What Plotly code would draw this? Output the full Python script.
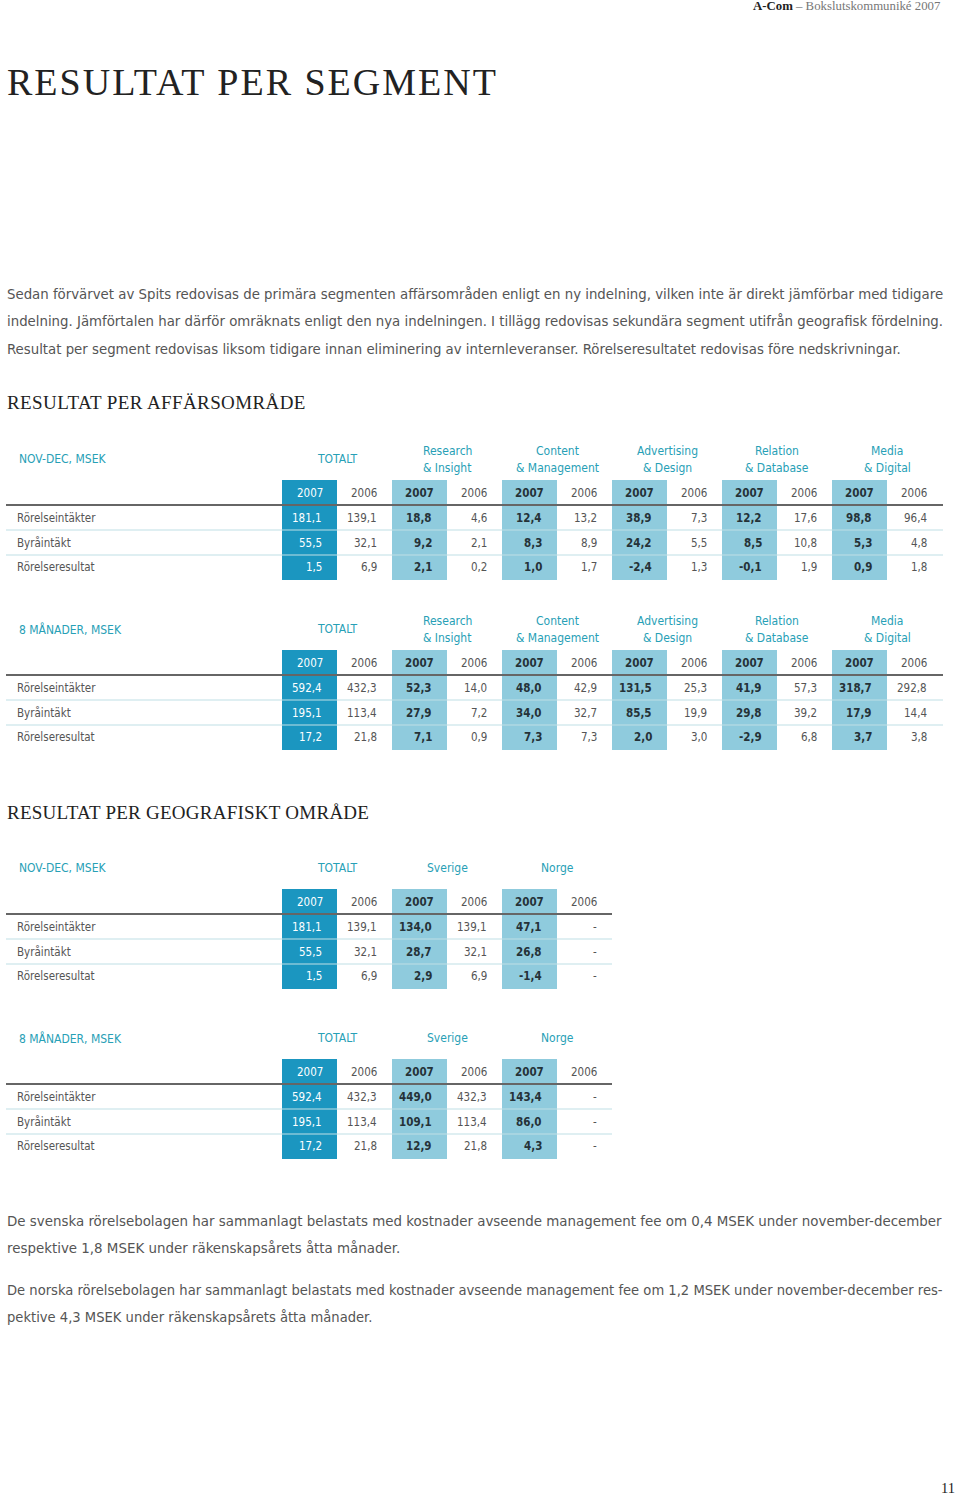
import plotly.graph_objects as go

# ---------------- data ----------------
row_labels = ["Rörelseintäkter", "Byråintäkt", "Rörelseresultat"]

aff_groups = ["TOTALT", "Research<br>& Insight", "Content<br>& Management",
              "Advertising<br>& Design", "Relation<br>& Database", "Media<br>& Digital"]
geo_groups = ["TOTALT", "Sverige", "Norge"]

# rows: Rörelseintäkter, Byråintäkt, Rörelseresultat ; one list per group
aff_novdec_2007 = [[181.1, 55.5, 1.5], [18.8, 9.2, 2.1], [12.4, 8.3, 1.0],
                   [38.9, 24.2, -2.4], [12.2, 8.5, -0.1], [98.8, 5.3, 0.9]]
aff_novdec_2006 = [[139.1, 32.1, 6.9], [4.6, 2.1, 0.2], [13.2, 8.9, 1.7],
                   [7.3, 5.5, 1.3], [17.6, 10.8, 1.9], [96.4, 4.8, 1.8]]
aff_8m_2007 = [[592.4, 195.1, 17.2], [52.3, 27.9, 7.1], [48.0, 34.0, 7.3],
               [131.5, 85.5, 2.0], [41.9, 29.8, -2.9], [318.7, 17.9, 3.7]]
aff_8m_2006 = [[432.3, 113.4, 21.8], [14.0, 7.2, 0.9], [42.9, 32.7, 7.3],
               [25.3, 19.9, 3.0], [57.3, 39.2, 6.8], [292.8, 14.4, 3.8]]
geo_novdec_2007 = [[181.1, 55.5, 1.5], [134.0, 28.7, 2.9], [47.1, 26.8, -1.4]]
geo_novdec_2006 = [[139.1, 32.1, 6.9], [139.1, 32.1, 6.9], [None, None, None]]
geo_8m_2007 = [[592.4, 195.1, 17.2], [449.0, 109.1, 12.9], [143.4, 86.0, 4.3]]
geo_8m_2006 = [[432.3, 113.4, 21.8], [432.3, 113.4, 21.8], [None, None, None]]

years = ["2007", "2006"]

header_left = "A-Com"
header_right = " – Bokslutskommuniké 2007"
page_title = "RESULTAT PER SEGMENT"
intro_lines = [
    "Sedan förvärvet av Spits redovisas de primära segmenten affärsområden enligt en ny indelning, vilken inte är direkt jämförbar med tidigare",
    "indelning. Jämförtalen har därför omräknats enligt den nya indelningen. I tillägg redovisas sekundära segment utifrån geografisk fördelning.",
    "Resultat per segment redovisas liksom tidigare innan eliminering av internleveranser. Rörelseresultatet redovisas före nedskrivningar.",
]
section_aff = "RESULTAT PER AFFÄRSOMRÅDE"
section_geo = "RESULTAT PER GEOGRAFISKT OMRÅDE"
outro_lines = [
    "De svenska rörelsebolagen har sammanlagt belastats med kostnader avseende management fee om 0,4 MSEK under november-december",
    "respektive 1,8 MSEK under räkenskapsårets åtta månader.",
    "De norska rörelsebolagen har sammanlagt belastats med kostnader avseende management fee om 1,2 MSEK under november-december res-",
    "pektive 4,3 MSEK under räkenskapsårets åtta månader.",
]
page_number = "11"

# ---------------- style ----------------
SANS = "Liberation Sans Narrow, DejaVu Sans Condensed, Roboto, sans-serif"
SERIF = "Liberation Serif, DejaVu Serif, serif"
DARK_CELL = "#1b96c0"
LIGHT_CELL = "#8fcbdd"
SEP = "#bfe0e6"
RULE = "#666666"
TEAL = "#27a0b6"
GREY = "#555555"
INK = "#253238"
TS = 11.5  # table text size

fig = go.Figure()
fig.add_trace(go.Scatter(x=[0], y=[0], mode="markers", marker=dict(opacity=0),
                         hoverinfo="skip", showlegend=False))

annots = []
shapes = []


def txt(x, y, s, size, color, family=SANS, anchor="left", bold=False, spacing=None):
    if bold:
        s = f"<b>{s}</b>"
    if spacing is not None:
        s = f"<span style='letter-spacing:{spacing}px'>{s}</span>"
    annots.append(dict(x=x, y=y, xref="x", yref="y", text=s, showarrow=False,
                       xanchor=anchor, yanchor="middle",
                       font=dict(family=family, size=size, color=color)))


def fmt(v):
    if v is None:
        return "-"
    return f"{v:.1f}".replace(".", ",")


def draw_table(y0, label, groups, v2007, v2006, right_edge):
    txt(17, y0, label, 12, TEAL)
    for i, g in enumerate(groups):
        left = 282 + 110 * i
        shapes.append(dict(type="rect", xref="x", yref="y", x0=left, x1=left + 55,
                           y0=y0 + 21, y1=y0 + 121, line=dict(width=0),
                           fillcolor=DARK_CELL if i == 0 else LIGHT_CELL, layer="below"))
        parts = g.split("<br>")
        cx = left + 55
        if len(parts) == 1:
            txt(cx, y0, parts[0], 12, TEAL, anchor="center")
        else:
            txt(cx, y0 - 8.5, parts[0], 12, TEAL, anchor="center")
            txt(cx, y0 + 8.5, parts[1], 12, TEAL, anchor="center")
        txt(left + 27.5, y0 + 34, years[0], TS, "white" if i == 0 else INK,
            anchor="center", bold=(i != 0))
        txt(left + 97, y0 + 34, years[1], TS, GREY, anchor="right")
        for r in range(3):
            yy = y0 + 59 + 24.7 * r
            txt(left + 42, yy, fmt(v2007[i][r]), TS, "white" if i == 0 else INK,
                anchor="right", bold=(i != 0))
            txt(left + 97, yy, fmt(v2006[i][r]), TS, GREY, anchor="right")
    for r, lab in enumerate(row_labels):
        txt(15, y0 + 59 + 24.7 * r, lab, TS, GREY)
    shapes.append(dict(type="line", xref="x", yref="y", x0=6, x1=right_edge,
                       y0=y0 + 46, y1=y0 + 46, line=dict(color=RULE, width=2)))
    for yy in (y0 + 71, y0 + 96):
        shapes.append(dict(type="line", xref="x", yref="y", x0=6, x1=right_edge,
                           y0=yy, y1=yy, line=dict(color=SEP, width=1.2), layer="below"))


# header
annots.append(dict(x=943, y=6, xref="x", yref="y", showarrow=False, xanchor="right",
                   yanchor="middle",
                   text=f"<b><span style='color:#222'>{header_left}</span></b><span style='color:#777'>{header_right}</span>",
                   font=dict(family=SERIF, size=12.8, color="#777")))
txt(5, 82, page_title, 38, "#222", family=SERIF, spacing=2)
for k, line in enumerate(intro_lines):
    txt(5, 293 + 27.5 * k, line, 14.8, GREY)
txt(5, 402, section_aff, 19, "#222", family=SERIF, spacing=0.4)
draw_table(459, "NOV-DEC, MSEK", aff_groups, aff_novdec_2007, aff_novdec_2006, 943)
draw_table(629, "8 MÅNADER, MSEK", aff_groups, aff_8m_2007, aff_8m_2006, 943)
txt(5, 812, section_geo, 19, "#222", family=SERIF, spacing=0.25)
draw_table(868, "NOV-DEC, MSEK", geo_groups, geo_novdec_2007, geo_novdec_2006, 612)
draw_table(1038, "8 MÅNADER, MSEK", geo_groups, geo_8m_2007, geo_8m_2006, 612)
for line, yy, sz in zip(outro_lines, [1221, 1248, 1289, 1316], [14.9, 14.9, 14.6, 14.6]):
    txt(5, yy, line, sz, GREY)
txt(957, 1488, page_number, 14.5, "#222", family=SERIF, anchor="right")

fig.update_layout(width=960, height=1497, margin=dict(l=0, r=0, t=0, b=0),
                  paper_bgcolor="white", plot_bgcolor="white", showlegend=False,
                  annotations=annots, shapes=shapes)
fig.update_xaxes(range=[0, 960], visible=False, fixedrange=True)
fig.update_yaxes(range=[1497, 0], visible=False, fixedrange=True)
fig.write_html("out.html", config={"displayModeBar": False, "staticPlot": True},
               post_script="document.body.style.margin='0';document.body.style.overflow='hidden';")
